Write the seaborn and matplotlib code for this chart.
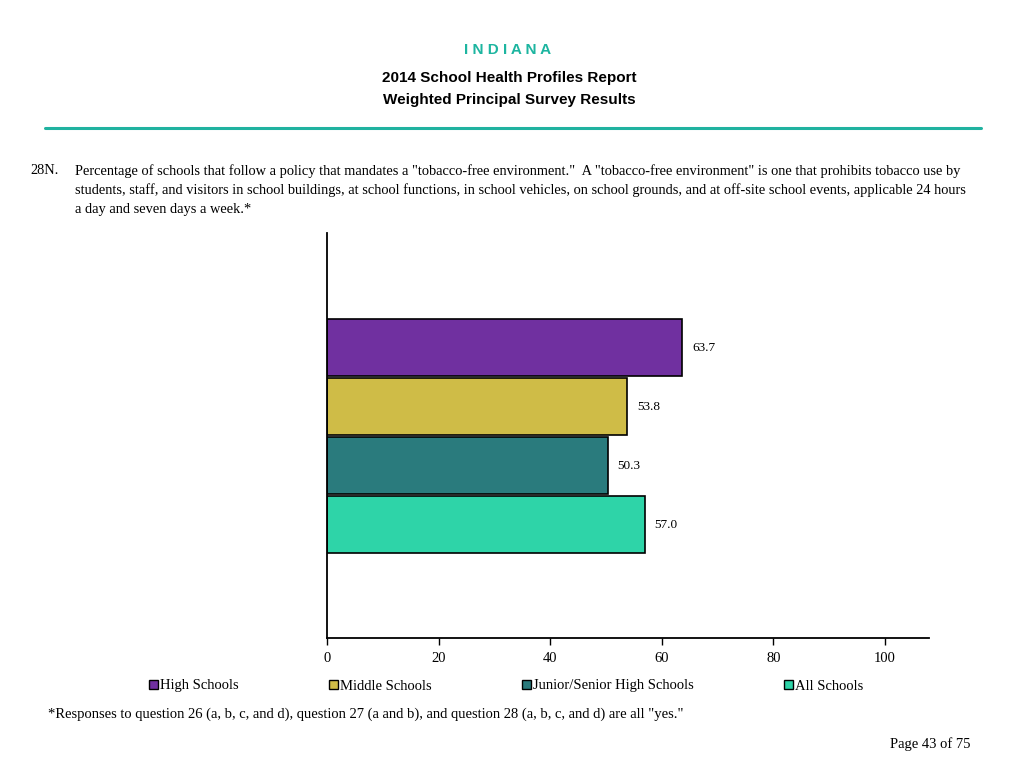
import pandas as pd
import seaborn as sns
import matplotlib.pyplot as plt
from matplotlib.patches import Patch
from matplotlib.lines import Line2D

# Dados
grupos = ['High Schools', 'Middle Schools', 'Junior/Senior High Schools', 'All Schools']
valores = [63.7, 53.8, 50.3, 57.0]
cores = ['#7030A0', '#CFBC47', '#2A7B7D', '#2ED4A8']
xticks = [0, 20, 40, 60, 80, 100]

df = pd.DataFrame({'Grupo': grupos, 'Valor': valores})

sns.set_style('white')
plt.rcParams['font.family'] = ['Liberation Serif', 'DejaVu Serif']
plt.rcParams['text.color'] = 'black'
plt.rcParams['xtick.color'] = 'black'
plt.rcParams['xtick.labelcolor'] = 'black'

fig = plt.figure(figsize=(10.24, 7.68), dpi=100)
ax = fig.add_axes([0.3193, 0.1693, 0.5879, 0.5273])

sns.barplot(data=df, x='Valor', y='Grupo', hue='Grupo', palette=cores, order=grupos,
            orient='h', width=0.97, saturation=1, edgecolor='black', linewidth=1.2,
            legend=False, ax=ax)

# Rotulos dos valores
for container, v in zip(ax.containers, valores):
    ax.bar_label(container, labels=[f'{v:.1f}'], padding=7, fontsize=9.5, color='black')

ax.set_xlim(0, 107.9)
ax.set_ylim(4.92, -1.94)
ax.set_xticks(xticks)
ax.set_xticklabels([str(t) for t in xticks], fontsize=10.5)
ax.set_yticks([])
ax.set_xlabel('')
ax.set_ylabel('')
ax.tick_params(axis='x', direction='out', length=5, width=1, color='black', pad=5, bottom=True)
sns.despine(ax=ax, top=True, right=True)
ax.spines['left'].set_color('black')
ax.spines['bottom'].set_color('black')
ax.spines['left'].set_linewidth(1.3)
ax.spines['bottom'].set_linewidth(1.3)

# Cabecalho
sans = ['Liberation Sans', 'DejaVu Sans']
fig.text(508 / 1024, 1 - 50 / 768, 'I N D I A N A', ha='center', va='center', color='#1DB5A0',
         fontsize=11, fontweight='bold', family=sans)
fig.text(509 / 1024, 1 - 78 / 768, '2014 School Health Profiles Report', ha='center', va='center',
         fontsize=11, fontweight='bold', family=sans)
fig.text(509 / 1024, 1 - 100 / 768, 'Weighted Principal Survey Results', ha='center', va='center',
         fontsize=11, fontweight='bold', family=sans)
fig.add_artist(Line2D([45 / 1024, 981 / 1024], [1 - 128 / 768, 1 - 128 / 768],
                      color='#20B2A0', linewidth=2.2))

# Pergunta
fig.text(30 / 1024, 1 - 171 / 768, '28N.', ha='left', va='center', fontsize=10.35)
linhas = ['Percentage of schools that follow a policy that mandates a "tobacco-free environment."  A "tobacco-free environment" is one that prohibits tobacco use by',
          'students, staff, and visitors in school buildings, at school functions, in school vehicles, on school grounds, and at off-site school events, applicable 24 hours',
          'a day and seven days a week.*']
for i, linha in enumerate(linhas):
    fig.text(75 / 1024, 1 - (171 + 19 * i) / 768, linha, ha='left', va='center', fontsize=10.35)

# Legenda
handles = [Patch(facecolor=c, edgecolor='black', linewidth=1) for c in cores]
fig.legend(handles, grupos, loc='center left', bbox_to_anchor=(143 / 1024, 1 - 686 / 768),
           ncol=4, frameon=False, fontsize=10.5, handlelength=0.6, handleheight=0.6,
           handletextpad=0.15, columnspacing=6.2, borderaxespad=0)

# Rodape
fig.text(48 / 1024, 1 - 714 / 768, '*Responses to question 26 (a, b, c, and d), question 27 (a and b), and question 28 (a, b, c, and d) are all "yes."',
         ha='left', va='center', fontsize=10.5)
fig.text(971 / 1024, 1 - 744 / 768, 'Page 43 of 75', ha='right', va='center', fontsize=10.5)

fig.savefig('out.png', dpi=100)
